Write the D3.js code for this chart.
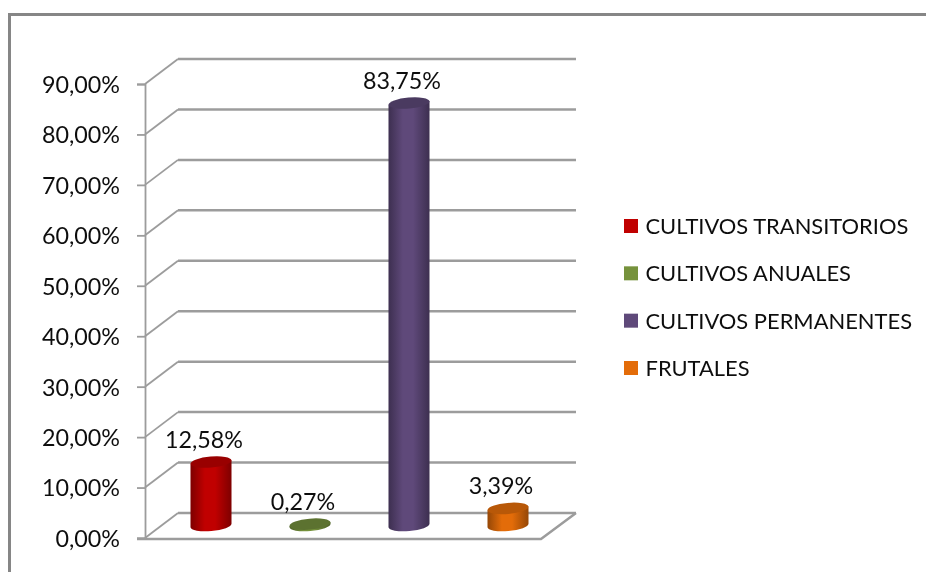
<!DOCTYPE html>
<html>
<head>
<meta charset="utf-8">
<script src="https://cdn.jsdelivr.net/npm/d3@7"></script>
<style>
  html, body { margin: 0; padding: 0; background: #fff; }
  text { font-family: Lato, "Open Sans", sans-serif; fill: #111; }
</style>
</head>
<body>
<div id="chart"></div>
<script>
var categories = ["CULTIVOS TRANSITORIOS", "CULTIVOS ANUALES", "CULTIVOS PERMANENTES", "FRUTALES"],
    values = [12.58, 0.27, 83.75, 3.39],
    valueLabels = ["12,58%", "0,27%", "83,75%", "3,39%"],
    ticks = [0, 10, 20, 30, 40, 50, 60, 70, 80, 90],
    tickLabels = ["0,00%", "10,00%", "20,00%", "30,00%", "40,00%", "50,00%", "60,00%", "70,00%", "80,00%", "90,00%"],
    sideColors = ["#c00000", "#76923c", "#5f497a", "#e36c09"],
    darkColors = ["#7e0000", "#4d6026", "#3d2f50", "#954706"],
    topColors = ["#990000", "#5c7230", "#4a3a60", "#b85808"];

var width = 926,
    height = 572,
    depthX = 33,
    depthY = -25;

var svg = d3.select("#chart").append("svg")
    .attr("width", width)
    .attr("height", height);

var yScale = d3.scaleLinear().domain([0, 90]).range([538, 84]);
var xScale = d3.scaleBand().domain(categories).range([145, 541]);

// cylinder shading, one gradient per bar
var defs = svg.append("defs");
categories.forEach(function(c, i) {
  var grad = defs.append("linearGradient").attr("id", "cyl" + i);
  grad.append("stop").attr("offset", "0%").attr("stop-color", darkColors[i]);
  grad.append("stop").attr("offset", "35%").attr("stop-color", sideColors[i]);
  grad.append("stop").attr("offset", "60%").attr("stop-color", sideColors[i]);
  grad.append("stop").attr("offset", "100%").attr("stop-color", darkColors[i]);
});
defs.append("filter").attr("id", "soft")
  .append("feGaussianBlur").attr("stdDeviation", 0.55);

// outer frame
svg.append("path")
    .attr("d", "M9.5,572V14.5H926")
    .attr("fill", "none")
    .attr("stroke", "#868686")
    .attr("stroke-width", 3);

var wall = svg.append("g").attr("stroke", "#9c9c9c").attr("fill", "none");

// back wall lines
wall.selectAll(".back").data(ticks).enter().append("line")
    .attr("x1", 145 + depthX)
    .attr("x2", 541 + depthX + 2)
    .attr("y1", function(d) { return yScale(d) + depthY; })
    .attr("y2", function(d) { return yScale(d) + depthY; })
    .attr("stroke-width", 2.5);

// side wall lines
wall.selectAll(".side").data(ticks).enter().append("line")
    .attr("x1", 145)
    .attr("x2", 145 + depthX)
    .attr("y1", function(d) { return yScale(d); })
    .attr("y2", function(d) { return yScale(d) + depthY; })
    .attr("stroke-width", 1.8);

// floor front and right edges
wall.append("path")
    .attr("d", "M137," + (yScale(0) + 1) + "H541L" + (541 + depthX + 2) + "," + (yScale(0) + depthY))
    .attr("stroke-width", 2.5);

// y axis
var yAxis = d3.axisLeft(yScale)
    .tickValues(ticks)
    .tickSize(8)
    .tickFormat(function(d, i) { return tickLabels[i]; });

var axisG = svg.append("g")
    .attr("transform", "translate(145,0)")
    .call(yAxis);
axisG.select(".domain").attr("stroke", "#9c9c9c").attr("stroke-width", 1.8);
axisG.selectAll(".tick line").attr("stroke", "#9c9c9c").attr("stroke-width", 1.8);
axisG.selectAll(".tick text")
    .attr("x", -25)
    .attr("dy", "0.36em")
    .attr("font-size", 23.3)
    .style("font-family", "Lato, sans-serif")
    .attr("fill", "#111")
    .attr("filter", "url(#soft)");

// cylinders
var rx = 20.5, ry = 5.5, tilt = -5;
function cx(i) { return xScale(categories[i]) + xScale.bandwidth() / 2 + depthX / 2; }
var baseY = yScale(0) + depthY / 2;

var bars = svg.selectAll(".bar").data(values).enter().append("g").attr("class", "bar");

bars.append("path")
    .attr("fill", function(d, i) { return "url(#cyl" + i + ")"; })
    .attr("d", function(d, i) {
      var h = yScale(0) - yScale(d),
          x = cx(i),
          s = rx * Math.sin(tilt * Math.PI / 180);
      // body with the tilted ellipse at both ends
      return "M" + (x - rx) + "," + (baseY - h - s) +
        "V" + (baseY - s) +
        "A" + rx + "," + ry + " " + tilt + " 0 0 " + (x + rx) + "," + (baseY + s) +
        "V" + (baseY - h + s) +
        "Z";
    });

bars.append("ellipse")
    .attr("rx", rx)
    .attr("ry", ry)
    .attr("fill", function(d, i) { return topColors[i]; })
    .attr("transform", function(d, i) {
      return "translate(" + cx(i) + "," + (baseY - (yScale(0) - yScale(d))) + ") rotate(" + tilt + ")";
    });

// value labels
svg.selectAll(".value").data(values).enter().append("text")
    .attr("class", "value")
    .attr("x", function(d, i) { return cx(i) - 7; })
    .attr("y", function(d) { return yScale(d) + depthY / 2 - 14; })
    .attr("text-anchor", "middle")
    .attr("font-size", 23.3)
    .attr("filter", "url(#soft)")
    .text(function(d, i) { return valueLabels[i]; });

// legend
var legendY = d3.scalePoint().domain(categories).range([226, 368]);

var legend = svg.selectAll(".legend").data(categories).enter().append("g")
    .attr("class", "legend")
    .attr("transform", function(d) { return "translate(624," + legendY(d) + ")"; });

legend.append("rect")
    .attr("y", -7)
    .attr("width", 14)
    .attr("height", 14)
    .attr("fill", function(d, i) { return sideColors[i]; });

legend.append("text")
    .attr("x", 21.5)
    .attr("y", 8)
    .attr("font-size", 21.9)
    .attr("filter", "url(#soft)")
    .text(function(d) { return d; });
</script>
</body>
</html>
